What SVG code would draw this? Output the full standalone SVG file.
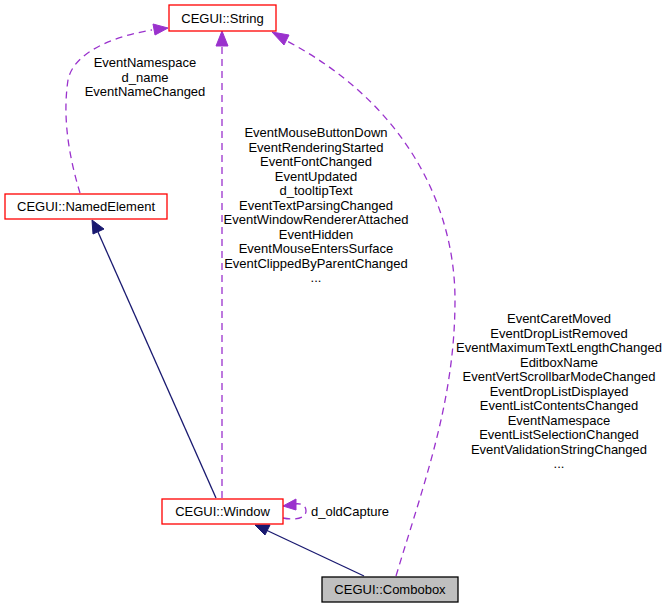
<svg xmlns="http://www.w3.org/2000/svg" width="669" height="608" viewBox="0 0 669 608">
<style>
text{font-family:"Liberation Sans",Arial,sans-serif;font-size:13px;fill:#000}
.c{text-anchor:middle}
.n{fill:#fff;stroke:#ff0000;stroke-width:1.3}
.d{fill:none;stroke:#9a32cd;stroke-width:1.3;stroke-dasharray:7,5}
.s{fill:none;stroke:#191970;stroke-width:1.3}
.ap{fill:#9a32cd;stroke:#9a32cd}
.an{fill:#191970;stroke:#191970}
</style>
<rect width="669" height="608" fill="#fff"/>
<g id="connectors">
<path class="s" d="M216,498 L98,232"/>
<polygon class="an" points="92,220 104,229 93,234"/>
<path class="s" d="M364,576 L266,530"/>
<polygon class="an" points="255,525 270,525 265,535"/>
<path class="d" d="M80,193 C70,160 62,120 68,80 C74,50 120,35 152,30"/>
<polygon class="ap" points="168,28 153,24 155,35"/>
<path class="d" d="M222,498 L222,45"/>
<polygon class="ap" points="222,31 216,46 228,46"/>
<path class="d" d="M396,576 C425,480 455,400 455,300 C455,200 400,100 285,40"/>
<polygon class="ap" points="272,32 284,45 289,35"/>
<path class="d" d="M283,518 C298,521 306,517 306,511 C306,505 300,503 295,504"/>
<polygon class="ap" points="283,506 296,499 296,510"/>
</g>
<g id="String">
<rect class="n" x="169" y="5" width="107" height="26"/>
<text class="c" x="222.5" y="23">CEGUI::String</text>
</g>
<g id="NamedElement">
<rect class="n" x="5" y="194" width="162" height="25"/>
<text class="c" x="86" y="211">CEGUI::NamedElement</text>
</g>
<g id="Window">
<rect class="n" x="162" y="499" width="121" height="25"/>
<text class="c" x="222.5" y="516">CEGUI::Window</text>
</g>
<g id="Combobox">
<rect x="322" y="577" width="136" height="25" fill="#bfbfbf" stroke="#000" stroke-width="1.3"/>
<text class="c" x="390" y="594">CEGUI::Combobox</text>
</g>
<g id="labels">
<text class="c" x="145" y="67">EventNamespace</text>
<text class="c" x="145" y="81.5">d_name</text>
<text class="c" x="145" y="96">EventNameChanged</text>
<text class="c" x="316" y="137">EventMouseButtonDown</text>
<text class="c" x="316" y="151.5">EventRenderingStarted</text>
<text class="c" x="316" y="166">EventFontChanged</text>
<text class="c" x="316" y="180.5">EventUpdated</text>
<text class="c" x="316" y="195">d_tooltipText</text>
<text class="c" x="316" y="209.5">EventTextParsingChanged</text>
<text class="c" x="316" y="224">EventWindowRendererAttached</text>
<text class="c" x="316" y="238.5">EventHidden</text>
<text class="c" x="316" y="253">EventMouseEntersSurface</text>
<text class="c" x="316" y="267.5">EventClippedByParentChanged</text>
<text class="c" x="316" y="282">...</text>
<text class="c" x="559" y="323">EventCaretMoved</text>
<text class="c" x="559" y="337.5">EventDropListRemoved</text>
<text class="c" x="559" y="352">EventMaximumTextLengthChanged</text>
<text class="c" x="559" y="366.5">EditboxName</text>
<text class="c" x="559" y="381">EventVertScrollbarModeChanged</text>
<text class="c" x="559" y="395.5">EventDropListDisplayed</text>
<text class="c" x="559" y="410">EventListContentsChanged</text>
<text class="c" x="559" y="424.5">EventNamespace</text>
<text class="c" x="559" y="439">EventListSelectionChanged</text>
<text class="c" x="559" y="453.5">EventValidationStringChanged</text>
<text class="c" x="559" y="468">...</text>
<text x="311" y="516">d_oldCapture</text>
</g>
</svg>
